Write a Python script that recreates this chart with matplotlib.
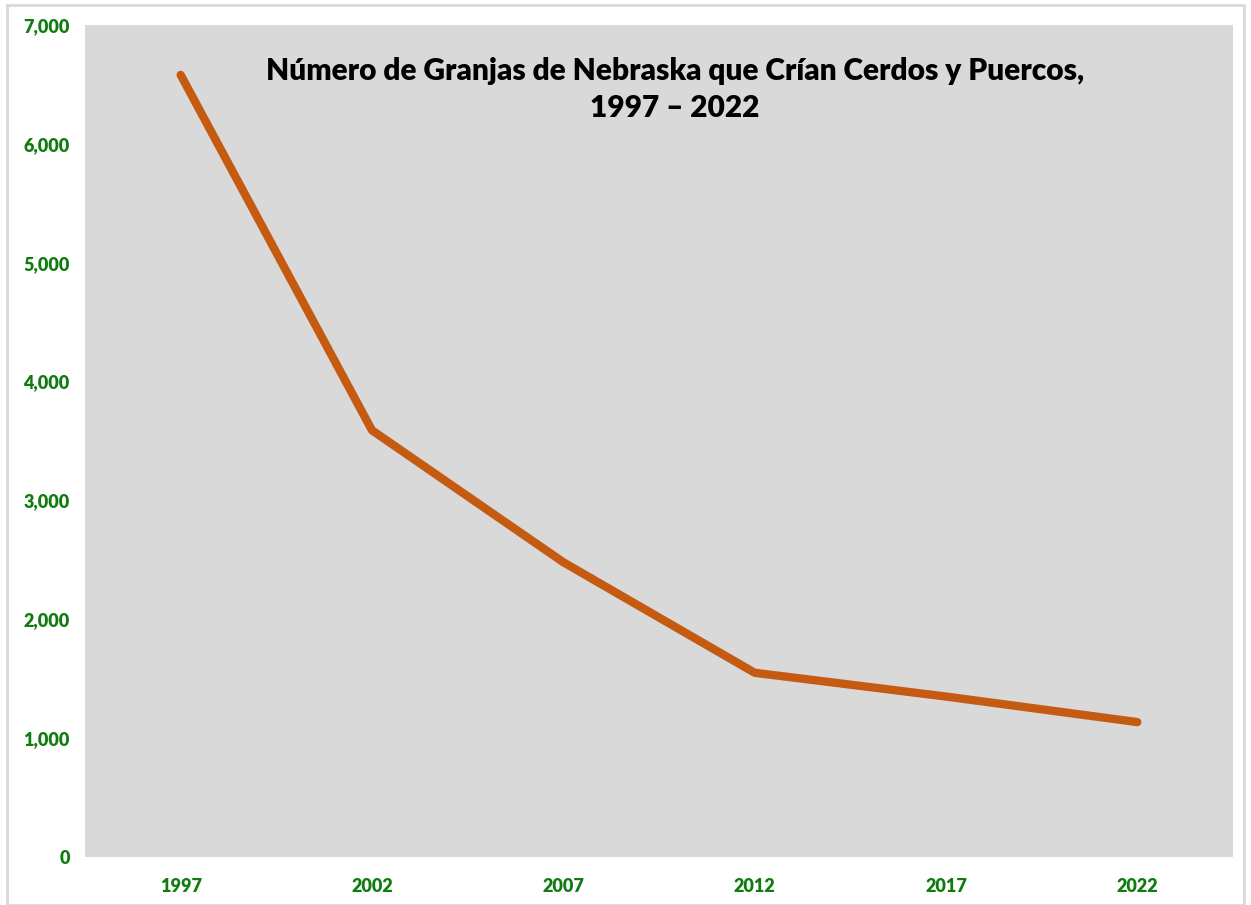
import matplotlib
matplotlib.use("Agg")
import matplotlib.pyplot as plt
from matplotlib.patches import Rectangle
from matplotlib.ticker import FuncFormatter

years = ["1997", "2002", "2007", "2012", "2017", "2022"]
farms = [6580, 3590, 2480, 1550, 1350, 1135]
yticks = [0, 1000, 2000, 3000, 4000, 5000, 6000, 7000]

plt.rcParams['font.family'] = ['Lato', 'DejaVu Sans']

fig = plt.figure(figsize=(12.51, 9.05), dpi=100)
fig.patch.set_facecolor("white")
fig.patches.append(Rectangle((7/1251, 0), 1 - 14/1251, 1 - 5/905, transform=fig.transFigure,
                             fill=False, edgecolor="#D9D9D9", linewidth=2))
ax = fig.add_axes([85/1251, 1 - 857/905, (1233-85)/1251, (857-25)/905])
ax.set_facecolor("#D9D9D9")
x = list(range(len(years)))
ax.plot(x, farms, color="#C55A11", linewidth=6, solid_capstyle="round", solid_joinstyle="round")
ax.set_xlim(-0.5, len(years) - 0.5)
ax.set_ylim(0, 7000)
ax.set_xticks(x)
ax.set_xticklabels(years)
ax.set_yticks(yticks)
ax.yaxis.set_major_formatter(FuncFormatter(lambda v, p: f"{int(v):,}"))
for s in ax.spines.values():
    s.set_visible(False)
ax.tick_params(length=0, colors="#107C10", labelsize=13)
ax.tick_params(axis="y", pad=11)
ax.tick_params(axis="x", pad=15)
for lab in ax.get_xticklabels() + ax.get_yticklabels():
    lab.set_fontweight("heavy")
    lab.set_color("#107C10")
ax.text(0.514, 0.962, "Número de Granjas de Nebraska que Crían Cerdos y Puercos,\n1997 – 2022",
        transform=ax.transAxes, ha="center", va="top", fontsize=21.5, fontweight="heavy",
        color="black", linespacing=1.4)
fig.savefig("out.png", dpi=100)
